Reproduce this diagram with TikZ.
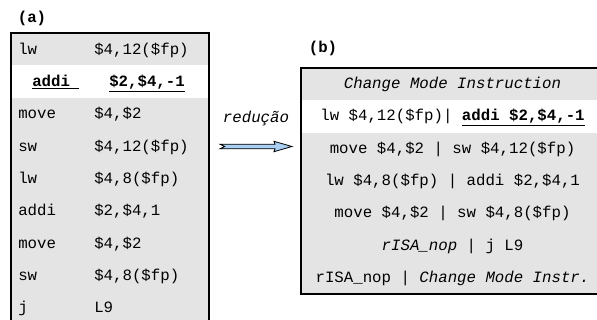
\documentclass[tikz,border=0pt]{standalone}
\usepackage{fontspec}
\setmonofont{Liberation Mono}
\definecolor{rowgray}{HTML}{E4E4E4}
\definecolor{arrowblue}{HTML}{A9CFF2}
\begin{document}
\begin{tikzpicture}[x=0.75pt,y=-0.75pt,
  font=\ttfamily\fontsize{11.8}{14}\selectfont,
  rowa/.style={draw=none,inner sep=0pt,minimum width=148.5pt,minimum height=24.3pt},
  rowb/.style={draw=none,inner sep=0pt,minimum width=227.25pt,minimum height=24.2pt},
  txt/.style={inner sep=0pt,text height=0.7em,text depth=0.2em},
  frame/.style={draw=black,line width=1.7pt},
  tag/.style={inner sep=0pt,font=\ttfamily\bfseries\fontsize{11.8}{14}\selectfont}]
\useasboundingbox (0,0) rectangle (597,320);
\clip (0,0) rectangle (597,320);
% ---------- (a) ----------
\node[tag] (la) at (32,18) {(a)};
\foreach \i/\fl in {0/rowgray,1/white,2/rowgray,3/rowgray,4/rowgray,5/rowgray,6/rowgray,7/rowgray,8/rowgray}
  \node[rowa,fill=\fl] (a\i) at (110,{49.2+32.3*\i}) {};
\foreach \i/\op/\opnd in {0/lw/{\$4,12(\$fp)},2/move/{\$4,\$2},3/sw/{\$4,12(\$fp)},4/lw/{\$4,8(\$fp)},5/addi/{\$2,\$4,1},6/move/{\$4,\$2},7/sw/{\$4,8(\$fp)},8/j/{L9}}{
  \node[txt,anchor=west] (ao\i) at (18,{51+32.3*\i}) {\op};
  \node[txt,anchor=west] (aa\i) at (94,{51+32.3*\i}) {\opnd};
}
\node[txt,anchor=west,font=\ttfamily\bfseries\fontsize{11.8}{14}\selectfont] (ao1) at (32,83.3) {\underline{addi\hphantom{x}}};
\node[txt,anchor=west,font=\ttfamily\bfseries\fontsize{11.8}{14}\selectfont] (aa1) at (109,83.3) {\underline{\$2,\$4,-1}};
\draw[frame] (11,33) rectangle (209,340);
% ---------- (b) ----------
\node[tag] (lb) at (323,48) {(b)};
\foreach \i/\fl in {0/rowgray,1/white,2/rowgray,3/rowgray,4/rowgray,5/rowgray,6/rowgray}
  \node[rowb,fill=\fl] (b\i) at (452.5,{84.2+32.3*\i}) {};
\node[txt] (bt0) at ([yshift=-0.75pt]b0) {\textit{Change Mode Instruction}};
\node[txt] (bt1) at ([yshift=-0.75pt]b1) {lw \$4,12(\$fp)| \textbf{\underline{addi \$2,\$4,-1}}};
\node[txt] (bt2) at ([yshift=-0.75pt]b2) {move \$4,\$2 | sw \$4,12(\$fp)};
\node[txt] (bt3) at ([yshift=-0.75pt]b3) {lw \$4,8(\$fp) | addi \$2,\$4,1};
\node[txt] (bt4) at ([yshift=-0.75pt]b4) {move \$4,\$2 | sw \$4,8(\$fp)};
\node[txt] (bt5) at ([yshift=-0.75pt]b5) {\textit{rISA\_nop} | j L9};
\node[txt] (bt6) at ([yshift=-0.75pt]b6) {rISA\_nop | \textit{Change Mode Instr.}};
\draw[frame] (301,68) rectangle (604,294);
% ---------- arrow ----------
\node[txt,font=\ttfamily\itshape\fontsize{11.8}{14}\selectfont] (red) at (256,119) {redução};
\coordinate (tail) at (220,146.5);
\coordinate (tip) at (292,146.5);
\draw[fill=arrowblue,line width=0.6pt,line join=miter]
  ([yshift=1.7pt]tail) -- ([xshift=-12.75pt,yshift=1.7pt]tip) -- ([xshift=-13.5pt,yshift=3.9pt]tip)
  -- (tip) -- ([xshift=-13.5pt,yshift=-3.9pt]tip) -- ([xshift=-12.75pt,yshift=-1.7pt]tip)
  -- ([yshift=-1.7pt]tail) -- ([xshift=3.5pt]tail) -- cycle;
\end{tikzpicture}
\end{document}
